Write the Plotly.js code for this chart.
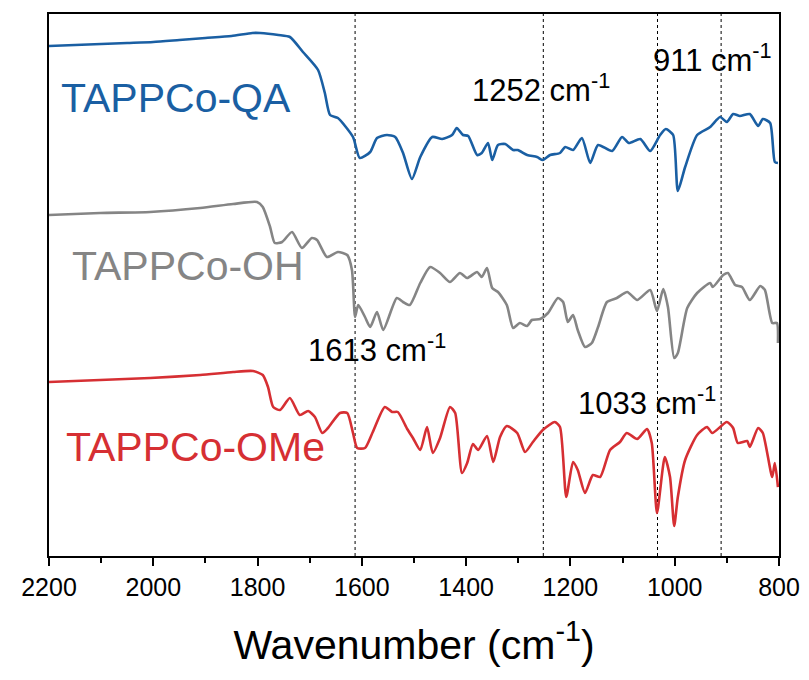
<!DOCTYPE html>
<html>
<head>
<meta charset="utf-8">
<script src="https://cdn.plot.ly/plotly-3.0.1.min.js"></script>
<style>html,body{margin:0;padding:0;background:#fff;}#chart{width:809px;height:680px;}</style>
</head>
<body>
<div id="chart"></div>
<script>
// Wavenumbers (cm-1) and offset intensities (a.u.)
const qaWn = [2200,2150,2100,2050,2000,1950,1900,1850,1810,1795,1760,1738,1713,1684,1671,1661,1646,1617,1604,1584,1571,1552,1536,1521,1504,1488,1465,1446,1427,1418,1406,1396,1379,1370,1358,1350,1339,1325,1310,1301,1283,1264,1253,1239,1220,1210,1195,1178,1162,1147,1120,1101,1088,1066,1047,1028,1017,1003,994,980,957,932,913,900,888,875,856,840,831,817,808,802];
const qaY  = [510,511,512,513,514,516,518,520,523,523,521,519,504,486,463,441,438,419,398,404,418,421,419,403,377,399,419,417,421,428,421,420,401,403,413,396,411,412,406,406,401,399,396,401,403,409,406,418,393,411,405,419,413,417,405,421,427,421,365,389,421,429,439,434,442,440,442,430,437,433,394,393];
const ohWn = [2200,2102,2006,1910,1847,1801,1790,1776,1767,1753,1734,1715,1696,1686,1667,1646,1628,1619,1613,1607,1594,1584,1571,1559,1533,1521,1508,1488,1469,1450,1431,1412,1398,1379,1370,1360,1350,1339,1322,1310,1297,1283,1274,1258,1243,1224,1214,1205,1195,1186,1172,1159,1147,1130,1111,1091,1072,1047,1034,1022,1013,1001,994,976,957,932,927,907,898,884,871,856,836,827,813,804,802];
const ohY  = [341,343,344,348,352,354,349,329,313,314,324,308,318,316,299,304,301,286,239,251,239,229,244,226,258,254,251,273,289,283,274,283,278,284,279,288,268,264,251,228,233,230,236,237,243,258,254,234,241,226,209,213,229,254,258,264,256,266,245,267,249,198,203,248,263,273,269,281,283,271,269,256,270,266,233,233,213];
const omeWn = [2200,2102,2006,1910,1847,1809,1790,1780,1770,1757,1738,1719,1703,1690,1676,1665,1642,1628,1617,1609,1594,1579,1556,1542,1531,1513,1502,1488,1475,1464,1450,1431,1421,1408,1398,1387,1377,1360,1348,1335,1322,1302,1287,1272,1253,1230,1220,1208,1195,1186,1172,1157,1143,1124,1105,1092,1072,1053,1044,1034,1019,1009,1001,994,980,957,938,928,900,888,879,861,856,840,831,813,808,802];
const omeY  = [174,176,178,181,184,185,181,169,149,146,158,141,145,139,123,128,143,143,123,108,108,124,149,144,144,127,118,106,129,103,118,149,143,83,93,112,106,120,94,119,130,123,104,114,126,134,129,59,94,86,63,81,79,106,114,123,117,127,113,43,99,79,30,59,96,121,129,123,134,128,113,115,109,128,123,79,93,69];
const peakWn = [1613, 1252, 1033, 911];
const seriesNames = ['TAPPCo-QA', 'TAPPCo-OH', 'TAPPCo-OMe'];
const xTicks = [2200, 2000, 1800, 1600, 1400, 1200, 1000, 800];

const colors = ['#1a5fa3', '#858585', '#d62f33'];
const font = 'Arial, "Liberation Sans", sans-serif';

const traces = [
  {x: qaWn, y: qaY, name: seriesNames[0]},
  {x: ohWn, y: ohY, name: seriesNames[1]},
  {x: omeWn, y: omeY, name: seriesNames[2]}
].map((t, i) => Object.assign(t, {
  type: 'scatter', mode: 'lines', line: {color: colors[i], width: 2.6, shape: 'spline', smoothing: 0.6},
  showlegend: false, hoverinfo: 'skip'
}));

const shapes = peakWn.map(w => ({
  type: 'line', xref: 'x', yref: 'paper', x0: w, x1: w, y0: 0, y1: 1,
  line: {color: '#000', width: 1, dash: 'dot'}, layer: 'below'
}));

const ann = (text, x, y, color, size) => ({
  text, x, y, xref: 'x', yref: 'y', xanchor: 'left', yanchor: 'middle',
  showarrow: false, font: {family: font, size, color}
});
const annotations = [
  ann(seriesNames[0], 2181, 458, colors[0], 41),
  ann(seriesNames[1], 2160, 290, colors[1], 41),
  ann(seriesNames[2], 2171, 109, colors[2], 41),
  ann(peakWn[1] + ' cm<sup>-1</sup>', 1392, 468, '#000', 31),
  ann(peakWn[3] + ' cm<sup>-1</sup>', 1046, 498, '#000', 31),
  ann(peakWn[0] + ' cm<sup>-1</sup>', 1708, 208, '#000', 31),
  ann(peakWn[2] + ' cm<sup>-1</sup>', 1190, 155, '#000', 31)
];

const layout = {
  width: 809, height: 680,
  margin: {l: 49, r: 30, t: 14, b: 124},
  paper_bgcolor: '#fff', plot_bgcolor: '#fff',
  font: {family: font, color: '#000'},
  xaxis: {
    range: [2200, 800], autorange: false,
    tickmode: 'array', tickvals: xTicks, ticktext: xTicks.map(String),
    ticks: 'outside', ticklen: 8, tickwidth: 2, tickcolor: '#000',
    minor: {dtick: 100, ticks: 'outside', ticklen: 5, tickwidth: 2, tickcolor: '#000'},
    showline: true, linewidth: 2, linecolor: '#000', mirror: true,
    showgrid: false, zeroline: false,
    tickfont: {family: font, size: 25, color: '#000'},
    title: {text: 'Wavenumber (cm<sup>-1</sup>)', font: {family: font, size: 41, color: '#000'}, standoff: 30}
  },
  yaxis: {
    range: [0, 542], autorange: false,
    showticklabels: false, ticks: '', showgrid: false, zeroline: false,
    showline: true, linewidth: 2, linecolor: '#000', mirror: true
  },
  shapes, annotations
};

Plotly.newPlot('chart', traces, layout, {displayModeBar: false, staticPlot: true});
</script>
</body>
</html>
